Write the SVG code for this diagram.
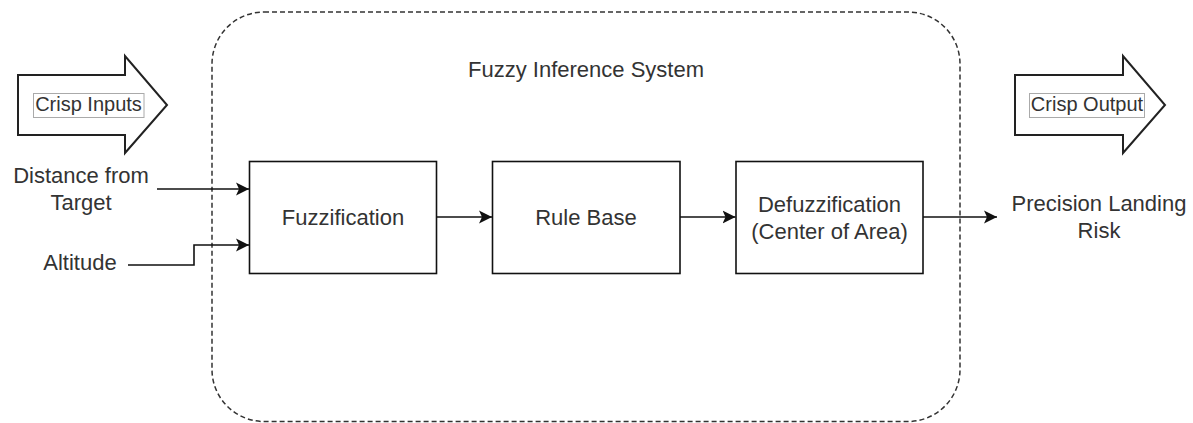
<svg xmlns="http://www.w3.org/2000/svg" width="1193" height="423" viewBox="0 0 1193 423">
<style>
  .t { font-family: "Liberation Sans", Arial, sans-serif; font-size: 22px; fill: #333; text-anchor: middle; }
  .lbl { font-family: "Liberation Sans", Arial, sans-serif; font-size: 20px; fill: #333; text-anchor: middle; }
  .box { fill: #fff; stroke: #111; stroke-width: 1.6; }
  .big { fill: #fff; stroke: #222; stroke-width: 2; stroke-linejoin: miter; }
  .tag { fill: #fff; stroke: #aaa; stroke-width: 1; }
  .edge { fill: none; stroke: #111; stroke-width: 1.6; marker-end: url(#arr); }
</style>
<defs>
  <marker id="arr" markerUnits="userSpaceOnUse" markerWidth="14" markerHeight="14" viewBox="0 0 14 14" refX="13" refY="7" orient="auto">
    <path d="M13,7 L0,0.5 L3,7 L0,13.5 Z" fill="#111"/>
  </marker>
</defs>
<rect width="1193" height="423" fill="#fff"/>

<g id="fis">
  <rect x="212" y="12" width="748" height="409.5" rx="52" ry="52" fill="none" stroke="#333" stroke-width="1.5" stroke-dasharray="5 3"/>
  <text class="t" x="586" y="77">Fuzzy Inference System</text>
</g>

<g id="crisp-inputs">
  <polygon class="big" points="18,75 125,75 125,56 167,105 125,153 125,135 18,135"/>
  <rect class="tag" x="33.5" y="93.5" width="110.5" height="24"/>
  <text class="lbl" x="88.5" y="111">Crisp Inputs</text>
</g>

<g id="crisp-output">
  <polygon class="big" points="1015,75 1123,75 1123,56 1165,105 1123,153 1123,135 1015,135"/>
  <rect class="tag" x="1029.5" y="93.5" width="115" height="24"/>
  <text class="lbl" x="1087" y="111">Crisp Output</text>
</g>

<g id="input-distance">
  <text class="t" x="81" y="183">Distance from</text>
  <text class="t" x="81" y="210">Target</text>
</g>

<g id="input-altitude">
  <text class="t" x="80" y="270">Altitude</text>
</g>

<g id="fuzzification">
  <rect class="box" x="249.5" y="161.5" width="187" height="112"/>
  <text class="t" x="343" y="225">Fuzzification</text>
</g>

<g id="rule-base">
  <rect class="box" x="492.5" y="161.5" width="187.5" height="112"/>
  <text class="t" x="586" y="225">Rule Base</text>
</g>

<g id="defuzzification">
  <rect class="box" x="736" y="161.5" width="187" height="112"/>
  <text class="t" x="829.5" y="212">Defuzzification</text>
  <text class="t" x="829.5" y="239">(Center of Area)</text>
</g>

<g id="output-risk">
  <text class="t" x="1099" y="211">Precision Landing</text>
  <text class="t" x="1099" y="238">Risk</text>
</g>

<g id="connectors">
  <path class="edge" d="M157,189 H249"/>
  <path class="edge" d="M128,265 H194 V245 H249"/>
  <path class="edge" d="M436.5,217 H492"/>
  <path class="edge" d="M680,217 H735.5"/>
  <path class="edge" d="M923,217 H997"/>
</g>
</svg>
